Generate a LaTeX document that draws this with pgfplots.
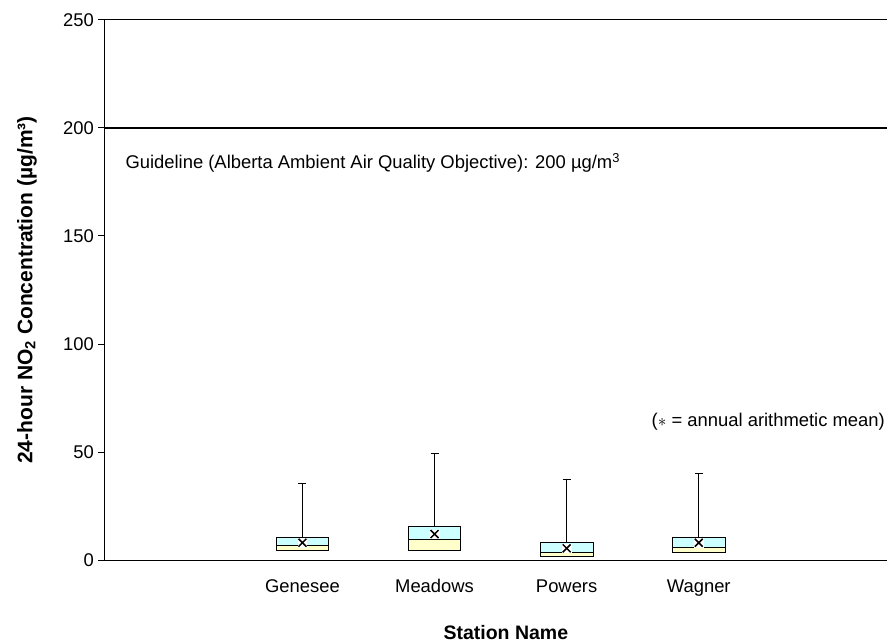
\documentclass[border=0pt]{standalone}
\usepackage{pgfplots}
\pgfplotsset{compat=1.18}
\usepgfplotslibrary{statistics}
\usepackage{fontspec}
\setmainfont{Liberation Sans}
\definecolor{boxcyan}{HTML}{CCFFFF}
\definecolor{boxyellow}{HTML}{FFFFCC}

\begin{document}
\begin{tikzpicture}
% fixed page frame around the axis rectangle
\useasboundingbox (-104.3pt,-83pt) rectangle (782.7pt,560pt);
\begin{axis}[
  at={(0,0)}, anchor=south west,
  scale only axis, width=782.7pt, height=540pt,
  xmin=-0.5, xmax=5.425, ymin=0, ymax=250,
  axis x line*=bottom, axis y line*=left,
  axis line style={black, line width=1pt},
  clip=false,
  font=\fontsize{18.4}{22}\selectfont,
  /pgf/number format/assume math mode=true,
  ytick={0,50,...,250},
  tick align=outside,
  major tick length=6pt,
  tick style={black, line width=1pt},
  xtick={1,2,3,4},
  xticklabels={Genesee,Meadows,Powers,Wagner},
  x tick style={draw=none},
  extra x ticks={0.5,1.5,2.5,3.5,4.5},
  extra x tick labels={},
  extra x tick style={tick style={black, line width=1pt, draw=black}},
  xticklabel style={yshift=-10pt},
  yticklabel style={xshift=-1pt},
  every axis y label/.style={at={(axis description cs:-0.0988,0.5)}, rotate=90, anchor=center,
    font=\fontsize{21}{25}\selectfont\bfseries},
  every axis x label/.style={at={(axis description cs:0.513,-0.135)}, anchor=center, inner sep=0pt,
    font=\fontsize{19.5}{23}\selectfont\bfseries},
  ylabel={24-hour NO\textsubscript{2} Concentration (µg/m³)},
  xlabel={Station Name},
  boxplot/draw direction=y,
  boxplot/box extend=0.4,
]

% frame line at the top of the plot area
\addplot[black, line width=1pt] coordinates {(-0.5,250) (5.425,250)};
% guideline at 200
\addplot[black, line width=2.2pt] coordinates {(-0.5,200) (5.425,200)};

% lower part of each box: 25th percentile to median
\addplot[draw=black, fill=boxyellow, line width=1pt, boxplot prepared={draw position=1,
  lower whisker=4.6, lower quartile=4.6, median=6.8, upper quartile=6.8, upper whisker=6.8, whisker extend=0}] coordinates {};
\addplot[draw=black, fill=boxyellow, line width=1pt, boxplot prepared={draw position=2,
  lower whisker=4.3, lower quartile=4.3, median=9.6, upper quartile=9.6, upper whisker=9.6, whisker extend=0}] coordinates {};
\addplot[draw=black, fill=boxyellow, line width=1pt, boxplot prepared={draw position=3,
  lower whisker=1.4, lower quartile=1.4, median=3.4, upper quartile=3.4, upper whisker=3.4, whisker extend=0}] coordinates {};
\addplot[draw=black, fill=boxyellow, line width=1pt, boxplot prepared={draw position=4,
  lower whisker=3.7, lower quartile=3.7, median=5.9, upper quartile=5.9, upper whisker=5.9, whisker extend=0}] coordinates {};

% upper part of each box: median to 75th percentile, whisker to maximum
\addplot[draw=black, fill=boxcyan, line width=1pt, boxplot prepared={draw position=1,
  lower whisker=6.8, lower quartile=6.8, median=6.8, upper quartile=10.3, upper whisker=35.2, whisker extend=0.06}] coordinates {};
\addplot[draw=black, fill=boxcyan, line width=1pt, boxplot prepared={draw position=2,
  lower whisker=9.6, lower quartile=9.6, median=9.6, upper quartile=15.4, upper whisker=49.4, whisker extend=0.06}] coordinates {};
\addplot[draw=black, fill=boxcyan, line width=1pt, boxplot prepared={draw position=3,
  lower whisker=3.4, lower quartile=3.4, median=3.4, upper quartile=8.0, upper whisker=37.3, whisker extend=0.06}] coordinates {};
\addplot[draw=black, fill=boxcyan, line width=1pt, boxplot prepared={draw position=4,
  lower whisker=5.9, lower quartile=5.9, median=5.9, upper quartile=10.5, upper whisker=40.1, whisker extend=0.06}] coordinates {};

% annual arithmetic means: white backing patch, then the cross
\addplot[only marks, white, mark=square*, mark size=4.2pt, mark options={draw=white, fill=white}]
  coordinates {(1,8.0) (2,12.0) (3,5.4) (4,8.0)};
\addplot[only marks, black, mark=x, mark size=5.6pt, mark options={black, line width=1.5pt}]
  coordinates {(1,8.0) (2,12.0) (3,5.4) (4,8.0)};

\node[anchor=west] at (axis cs:-0.366,183.8) {Guideline (Alberta Ambient Air Quality Objective): 200 µg/m\textsuperscript{3}};
\node[anchor=east, inner sep=0pt] at (axis cs:5.41,63.9) {($\ast$ = annual arithmetic mean)};
\end{axis}
\end{tikzpicture}
\end{document}
